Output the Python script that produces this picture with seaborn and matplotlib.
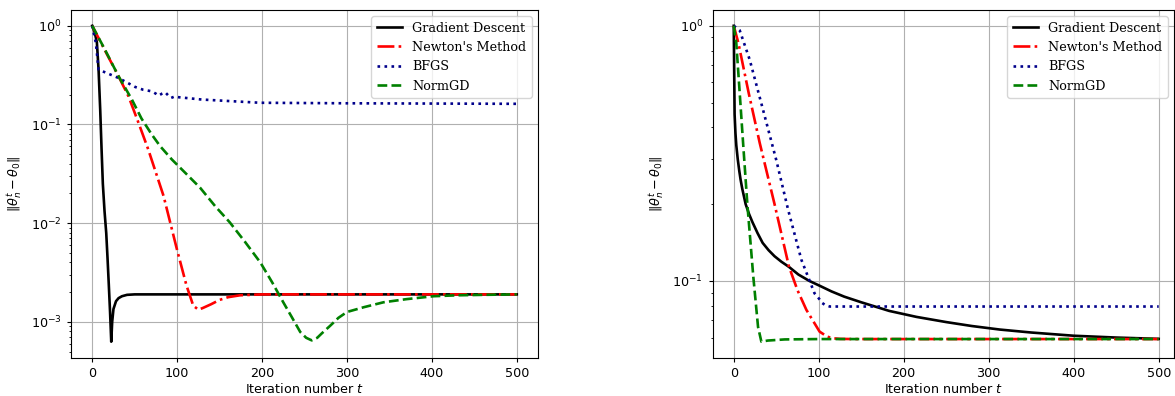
import numpy as np
import matplotlib
matplotlib.use("Agg")
import matplotlib.pyplot as plt
import seaborn as sns

# ---------------- Left panel data ----------------
gd_t_L = [0, 3, 5.5, 7.5, 9.4, 11, 12.5, 14.5, 16.5, 18, 19.5, 21, 22.4, 23.5, 25, 28, 31, 35, 41, 50, 100, 200, 300, 400, 500]
gd_v_L = [1.0, 0.851, 0.676, 0.355, 0.141, 0.0562, 0.0251, 0.0132, 0.00794, 0.00447, 0.0024, 0.00126, 0.00063,
          0.0010, 0.00135, 0.00162, 0.00174, 0.00182, 0.00188, 0.0019, 0.0019, 0.0019, 0.0019, 0.0019, 0.0019]

nt_t_L = [0, 15, 31, 42.7, 54.5, 66, 84, 99.6, 111, 119, 125, 130, 140, 150, 160, 174, 200, 300, 400, 500]
nt_v_L = [1.0, 0.562, 0.308, 0.193, 0.104, 0.0558, 0.0189, 0.0055, 0.00234, 0.00146, 0.00133, 0.00138,
          0.00151, 0.00167, 0.00178, 0.00186, 0.0019, 0.0019, 0.0019, 0.0019]

bf_t_L = [0, 4.3, 7.5, 15, 31, 50.6, 60, 70, 75, 78, 82, 86, 90, 93, 97, 101.5, 129, 198, 300, 400, 500]
bf_v_L = [1.0, 0.67, 0.36, 0.338, 0.296, 0.24, 0.225, 0.217, 0.205, 0.196, 0.205, 0.212, 0.195, 0.186,
          0.192, 0.189, 0.179, 0.166, 0.164, 0.163, 0.162]

ng_t_L = [0, 15, 31, 46.7, 58, 70, 80, 93.7, 110, 127, 145, 162, 180, 198, 212, 225, 235, 245, 252, 258.5,
          265, 270, 280, 290, 300, 320, 343, 370, 402, 430, 460, 500]
ng_v_L = [1.0, 0.573, 0.308, 0.179, 0.115, 0.0794, 0.0603, 0.0443, 0.0321, 0.0229, 0.0148, 0.0102, 0.00646,
          0.0040, 0.00251, 0.00158, 0.00112, 0.00079, 0.00069, 0.00065, 0.00069, 0.00076, 0.00091, 0.00110,
          0.00126, 0.00141, 0.00158, 0.0017, 0.00182, 0.00186, 0.00188, 0.0019]

# ---------------- Right panel data ----------------
gd_t_R = [0, 1, 2, 3, 4.7, 6.5, 8, 10, 14, 18, 22, 28, 34, 41, 48, 56, 65, 76, 89, 101, 115, 130, 150, 183,
          215, 250, 280, 313, 350, 400, 450, 500]
gd_v_R = [1.0, 0.45, 0.38, 0.34, 0.30, 0.27, 0.25, 0.23, 0.20, 0.183, 0.17, 0.154, 0.141, 0.132, 0.125, 0.119,
          0.1135, 0.106, 0.100, 0.0958, 0.091, 0.0868, 0.0825, 0.0763, 0.0723, 0.0690, 0.0666, 0.0645, 0.0628,
          0.0610, 0.0600, 0.0593]

nt_t_R = [0, 5.5, 17.6, 30.6, 48, 65, 75, 85.5, 101, 110, 117, 125, 140, 300, 500]
nt_v_R = [1.0, 0.855, 0.545, 0.347, 0.2, 0.1137, 0.092, 0.077, 0.0633, 0.0605, 0.0596, 0.0593, 0.0592, 0.0592, 0.0592]

bf_t_R = [0, 7, 18.8, 34.5, 50, 64, 79.6, 95, 100, 104, 108, 113, 150, 300, 500]
bf_v_R = [1.0, 0.96, 0.736, 0.468, 0.298, 0.19, 0.121, 0.0895, 0.0855, 0.082, 0.0803, 0.0794, 0.0794, 0.0794, 0.0794]

ng_t_R = [0, 3, 7, 11, 16, 23, 28.6, 32.5, 40, 60, 100, 300, 500]
ng_v_R = [1.0, 0.855, 0.546, 0.347, 0.2, 0.104, 0.066, 0.0578, 0.0584, 0.0590, 0.0592, 0.0592, 0.0592]

labels = ["Gradient Descent", "Newton's Method", "BFGS", "NormGD"]
colors = ["black", "red", "darkblue", "green"]
styles = ["-", "-.", ":", "--"]

FS = 9.2
plt.rcParams["font.size"] = FS
plt.rcParams["xtick.major.size"] = 3.2
plt.rcParams["ytick.major.size"] = 3.2
plt.rcParams["ytick.minor.size"] = 1.8

fig = plt.figure(figsize=(11.75, 3.96), dpi=100)
axL = fig.add_axes([71 / 1175, 38.5 / 396, 467 / 1175, 347.5 / 396])
axR = fig.add_axes([712.5 / 1175, 38.5 / 396, 461.5 / 1175, 347.5 / 396])

series_L = [(gd_t_L, gd_v_L), (nt_t_L, nt_v_L), (bf_t_L, bf_v_L), (ng_t_L, ng_v_L)]
series_R = [(gd_t_R, gd_v_R), (nt_t_R, nt_v_R), (bf_t_R, bf_v_R), (ng_t_R, ng_v_R)]

for ax, series in ((axL, series_L), (axR, series_R)):
    for (t, v), lab, c, ls in zip(series, labels, colors, styles):
        sns.lineplot(x=t, y=v, ax=ax, color=c, linestyle=ls, linewidth=1.9, label=lab,
                     sort=False, estimator=None)
    ax.set_yscale("log")
    ax.grid(True, which="major", color="#b0b0b0", linewidth=0.8)
    ax.set_xlabel("Iteration number $t$", fontsize=FS, labelpad=1.5)
    ax.set_ylabel(r"$\|\theta_n^t - \theta_0\|$", fontsize=FS)
    ax.set_xticks([0, 100, 200, 300, 400, 500])
    ax.tick_params(labelsize=FS)
    ax.legend(loc="upper right", prop={"family": "DejaVu Serif", "size": FS})

axL.set_xlim(-25, 525)
axR.set_xlim(-25, 518)

fig.savefig("out.png", dpi=100)
